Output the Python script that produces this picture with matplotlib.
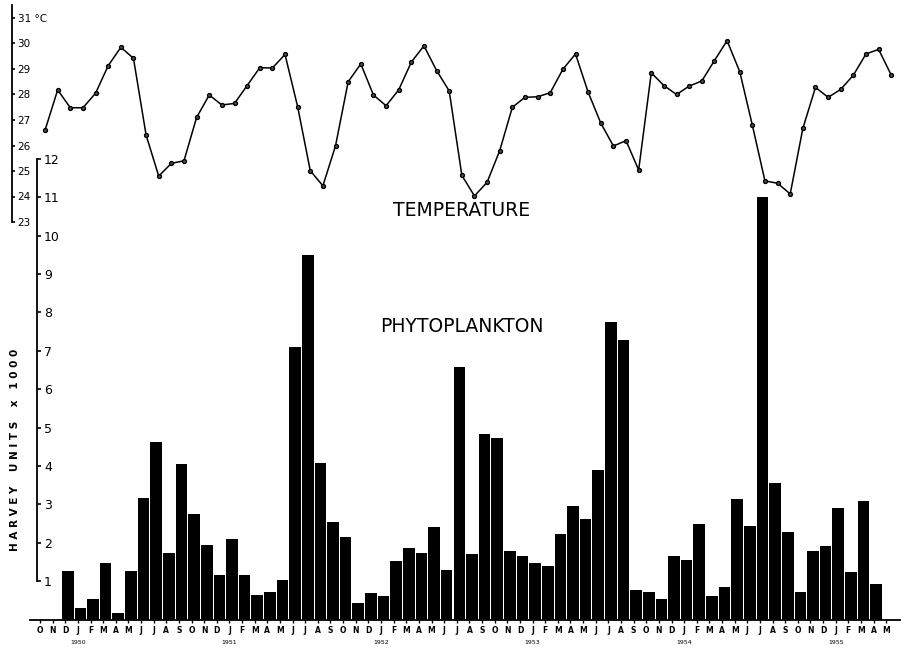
import matplotlib
matplotlib.use("Agg")
import matplotlib.pyplot as plt
import numpy as np

# months from October 1949 to May 1955
month_labels = list("OND" + "JFMAMJJASOND" * 5 + "JFMAM")
years = ["1950", "1951", "1952", "1953", "1954", "1955"]
year_month_idx = [3, 15, 27, 39, 51, 63]

# sea temperature, deg C
temperature = [
    26.6, 28.18, 27.48, 27.48, 28.05, 29.13, 29.85, 29.42, 26.41, 24.8,
    25.3, 25.4, 27.1, 27.98, 27.59, 27.65, 28.35, 29.05, 29.04, 29.57,
    27.52, 25.01, 24.42, 25.99, 28.5, 29.2, 27.98, 27.56, 28.18, 29.27,
    29.91, 28.94, 28.14, 24.83, 24.02, 24.56, 25.8, 27.5, 27.89, 27.91,
    28.07, 28.99, 29.59, 28.09, 26.88, 25.98, 26.19, 25.04, 28.85, 28.35,
    28.0, 28.33, 28.53, 29.33, 30.11, 28.9, 26.8, 24.61, 24.52, 24.1,
    26.67, 28.28, 27.89, 28.2, 28.76, 29.59, 29.77, 28.76,
]

# phytoplankton, Harvey units x 1000 (nan = no sample)
phytoplankton = [
    np.nan, np.nan, 1.26, 0.3, 0.53, 1.47, 0.17, 1.26, 3.16, 4.62,
    1.73, 4.05, 2.75, 1.94, 1.16, 2.1, 1.17, 0.64, 0.72, 1.03,
    7.09, 9.49, 4.08, 2.55, 2.14, 0.42, 0.68, 0.61, 1.52, 1.85,
    1.72, 2.42, 1.28, 6.58, 1.71, 4.82, 4.73, 1.79, 1.65, 1.48,
    1.4, 2.22, 2.96, 2.63, 3.89, 7.74, 7.28, 0.77, 0.72, 0.53,
    1.66, 1.55, 2.48, 0.61, 0.84, 3.14, 2.44, 11.01, 3.56, 2.27,
    0.72, 1.78, 1.91, 2.9, 1.23, 3.09, 0.92, np.nan,
]


def main():
    W, H = 905, 648
    fig = plt.figure(figsize=(W / 100, H / 100), dpi=100)

    x0 = 40.0     # pixel of first month label
    step = 12.63  # pixels per month
    idx = np.arange(len(month_labels))

    # ---- phytoplankton bars ----
    zero_y, unit = 619.5, 38.4
    ax = fig.add_axes([30 / W, (H - zero_y) / H, 870 / W, 12 * unit / H])
    ax.bar(idx + 0.2, phytoplankton, width=0.92, color="black")
    ax.set_xlim((30 - x0) / step, (900 - x0) / step)
    ax.set_ylim(0, 12)
    for s in ["top", "right"]:
        ax.spines[s].set_visible(False)
    ax.spines["left"].set_position(("data", (37 - x0) / step))
    ax.spines["left"].set_bounds(1, 12)
    ax.spines["left"].set_linewidth(1.3)
    ax.spines["bottom"].set_linewidth(1.3)
    ax.set_yticks(range(1, 13))
    ax.tick_params(axis="y", direction="in", length=3, width=1.2, pad=-5,
                   labelsize=9)
    for lbl in ax.get_yticklabels():
        lbl.set_horizontalalignment("left")
    ax.set_xticks(idx)
    ax.set_xticklabels(month_labels, fontsize=5.5, fontweight="bold")
    ax.tick_params(axis="x", length=2, width=1, pad=3)
    for i, yr in zip(year_month_idx, years):
        ax.text(i, -0.05, yr, transform=ax.get_xaxis_transform(),
                fontsize=4.5, ha="center", va="center")

    fig.text(15 / W, 1 - 450 / H, "H A R V E Y    U N I T S    x   1 0 0 0",
             rotation=90, fontsize=7.5, fontweight="bold",
             ha="center", va="center")
    fig.text(462 / W, 1 - 210 / H, "TEMPERATURE", fontsize=13.5,
             ha="center", va="center")
    fig.text(462 / W, 1 - 326 / H, "PHYTOPLANKTON", fontsize=13.5,
             ha="center", va="center")

    # ---- temperature line ----
    t_bot, t_top = 222.0, 18.0
    ax2 = fig.add_axes([12 / W, (H - t_bot) / H, 888 / W, (t_bot - t_top) / H])
    ax2.patch.set_visible(False)
    ax2.plot(idx + 0.4, temperature, color="black", linewidth=1.1,
             marker="o", markersize=2.8, markerfacecolor="#555555",
             markeredgecolor="black", markeredgewidth=1.0)
    ax2.set_xlim((12 - x0) / step, (900 - x0) / step)
    ax2.set_ylim(23, 31)
    for s in ["top", "right", "bottom"]:
        ax2.spines[s].set_visible(False)
    ax2.spines["left"].set_bounds(23, 31.5)
    ax2.spines["left"].set_linewidth(1.3)
    ax2.set_xticks([])
    ax2.set_yticks(range(23, 32))
    ax2.set_yticklabels([str(t) for t in range(23, 31)] + ["31 °C"])
    ax2.tick_params(axis="y", direction="in", length=2.5, width=1.2, pad=-4,
                    labelsize=7.5)
    for lbl in ax2.get_yticklabels():
        lbl.set_horizontalalignment("left")

    fig.savefig("out.png", dpi=100)


if __name__ == "__main__":
    main()
